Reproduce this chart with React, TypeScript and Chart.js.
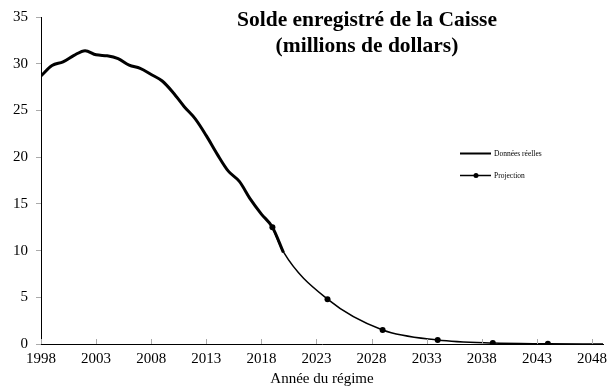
import React, { useEffect, useRef } from "react";
import { Chart, registerables } from "chart.js";

Chart.register(...registerables);

const realYears = [1998, 1999, 2000, 2001, 2002, 2003, 2004, 2005, 2006, 2007, 2008, 2009, 2010, 2011, 2012, 2013, 2014, 2015, 2016, 2017, 2018, 2019, 2020];
const realValues = [28.7, 29.8, 30.2, 30.9, 31.4, 30.95, 30.85, 30.55, 29.85, 29.5, 28.85, 28.15, 26.9, 25.4, 24.1, 22.3, 20.3, 18.5, 17.4, 15.5, 13.9, 12.5, 9.8];

const projYears = [2019, 2020, 2024, 2029, 2034, 2039, 2044, 2049];
const projValues = [12.5, 9.85, 4.8, 1.5, 0.43, 0.1, 0.03, 0.0];
const projMarkers = [true, false, true, true, true, true, true, false];

const xTickLabels = [1998, 2003, 2008, 2013, 2018, 2023, 2028, 2033, 2038, 2043, 2048];
const yTickLabels = [0, 5, 10, 15, 20, 25, 30, 35];

const titleLines = ["Solde enregistré de la Caisse", "(millions de dollars)"];
const legendLabels = ["Données réelles", "Projection"];
const xAxisTitle = "Année du régime";

const SERIF = "'Liberation Serif', 'DejaVu Serif', serif";

export default function App() {
  const ref = useRef<HTMLCanvasElement | null>(null);

  useEffect(() => {
    document.body.style.margin = "0";
    if (!ref.current) return;

    const overlay = {
      id: "overlay",
      afterDraw(chart: any) {
        const ctx = chart.ctx;
        const xs = chart.scales.x;
        const ys = chart.scales.y;
        ctx.save();
        // inner x ticks
        ctx.strokeStyle = "#aaaaaa";
        ctx.lineWidth = 1;
        const y0 = ys.getPixelForValue(0);
        xTickLabels.forEach((v) => {
          const px = Math.round(xs.getPixelForValue(v)) + 0.5;
          ctx.beginPath();
          ctx.moveTo(px, y0);
          ctx.lineTo(px, y0 - 5);
          ctx.stroke();
        });
        // title
        ctx.fillStyle = "#000";
        ctx.textAlign = "center";
        ctx.textBaseline = "alphabetic";
        ctx.font = `bold 21.5px ${SERIF}`;
        ctx.fillText(titleLines[0], 367, 26);
        ctx.fillText(titleLines[1], 367, 52);
        // legend
        ctx.strokeStyle = "#000";
        ctx.lineWidth = 2;
        ctx.beginPath();
        ctx.moveTo(460, 153.5);
        ctx.lineTo(491, 153.5);
        ctx.stroke();
        ctx.lineWidth = 1.5;
        ctx.beginPath();
        ctx.moveTo(460, 175.5);
        ctx.lineTo(491, 175.5);
        ctx.stroke();
        ctx.beginPath();
        ctx.arc(476, 175.5, 2.5, 0, Math.PI * 2);
        ctx.fill();
        ctx.textAlign = "left";
        ctx.textBaseline = "middle";
        ctx.font = `7.5px ${SERIF}`;
        ctx.fillText(legendLabels[0], 494, 154);
        ctx.fillText(legendLabels[1], 494, 176);
        ctx.restore();
      },
    };

    const chart = new Chart(ref.current, {
      type: "line",
      data: {
        datasets: [
          {
            label: legendLabels[0],
            data: realYears.map((x, i) => ({ x, y: realValues[i] })),
            borderColor: "#000",
            borderWidth: 3,
            pointRadius: 0,
            cubicInterpolationMode: "monotone",
            fill: false,
          },
          {
            label: legendLabels[1],
            data: projYears.map((x, i) => ({ x, y: projValues[i] })),
            borderColor: "#000",
            backgroundColor: "#000",
            borderWidth: 1.5,
            pointRadius: projMarkers.map((m) => (m ? 3 : 0)),
            pointBorderWidth: 0,
            cubicInterpolationMode: "monotone",
            fill: false,
          },
        ],
      },
      options: {
        animation: false,
        responsive: true,
        maintainAspectRatio: false,
        layout: { padding: { top: 16, right: 11, left: 0, bottom: 0 } },
        plugins: {
          legend: { display: false },
          tooltip: { enabled: false },
          title: { display: false },
        },
        scales: {
          x: {
            type: "linear",
            min: 1998,
            max: 2049,
            afterBuildTicks: (scale: any) => {
              scale.ticks = xTickLabels.map((v) => ({ value: v }));
            },
            afterFit: (scale: any) => {
              scale.height = 44;
            },
            grid: { display: false, drawTicks: false },
            border: { display: true, color: "#000", width: 1 },
            ticks: {
              autoSkip: false,
              maxRotation: 0,
              padding: 6,
              color: "#000",
              font: { family: SERIF, size: 15 },
              callback: (v: any) => String(v),
            },
            title: {
              display: true,
              text: xAxisTitle,
              color: "#000",
              font: { family: SERIF, size: 15 },
              padding: 0,
            },
          },
          y: {
            min: 0,
            max: 35,
            afterBuildTicks: (scale: any) => {
              scale.ticks = yTickLabels.map((v) => ({ value: v }));
            },
            afterFit: (scale: any) => {
              scale.width = 41;
            },
            grid: { display: true, drawOnChartArea: false, drawTicks: true, tickLength: 5, color: "#aaaaaa" },
            border: { display: true, color: "#000", width: 1 },
            ticks: {
              padding: 8,
              color: "#000",
              font: { family: SERIF, size: 15 },
              callback: (v: any) => String(v),
            },
          },
        },
      },
      plugins: [overlay],
    } as any);

    return () => chart.destroy();
  }, []);

  return (
    <div style={{ position: "absolute", left: 0, top: 0, width: 614, height: 388 }}>
      <canvas ref={ref} />
    </div>
  );
}
